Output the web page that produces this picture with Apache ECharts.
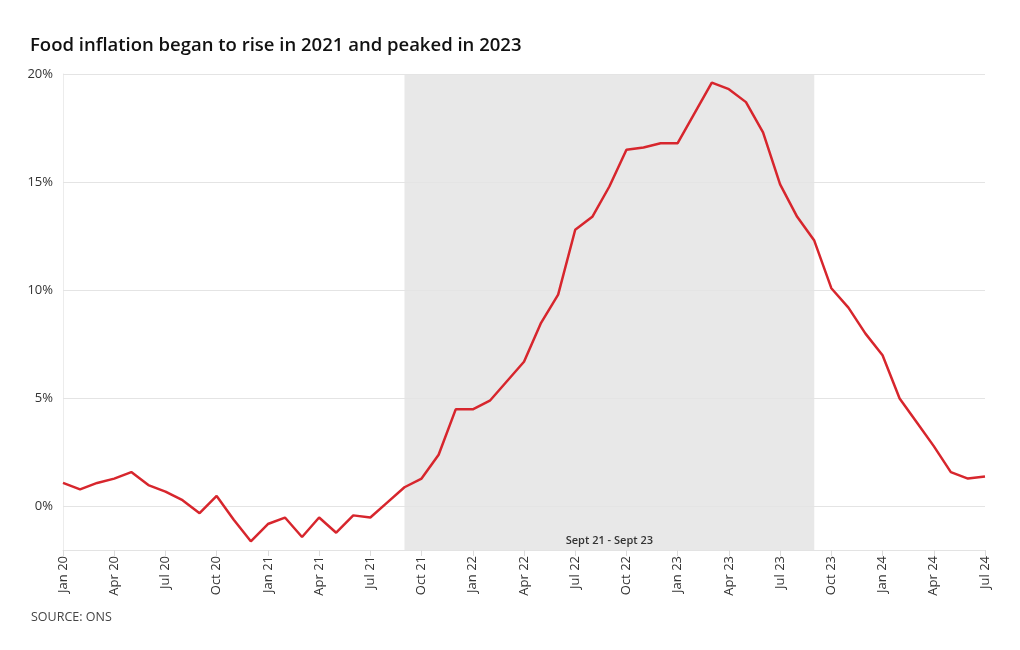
<!DOCTYPE html>
<html>
<head>
<meta charset="utf-8">
<script src="https://cdn.jsdelivr.net/npm/echarts@6/dist/echarts.min.js"></script>
<style>
html,body{margin:0;padding:0;background:#fff;}
#c{width:1020px;height:650px;}
</style>
</head>
<body>
<div id="c"></div>
<script>
const months = [
  "Jan 20","Feb 20","Mar 20","Apr 20","May 20","Jun 20","Jul 20","Aug 20","Sep 20","Oct 20","Nov 20","Dec 20",
  "Jan 21","Feb 21","Mar 21","Apr 21","May 21","Jun 21","Jul 21","Aug 21","Sep 21","Oct 21","Nov 21","Dec 21",
  "Jan 22","Feb 22","Mar 22","Apr 22","May 22","Jun 22","Jul 22","Aug 22","Sep 22","Oct 22","Nov 22","Dec 22",
  "Jan 23","Feb 23","Mar 23","Apr 23","May 23","Jun 23","Jul 23","Aug 23","Sep 23","Oct 23","Nov 23","Dec 23",
  "Jan 24","Feb 24","Mar 24","Apr 24","May 24","Jun 24","Jul 24"
];
const foodInflation = [
  1.1, 0.8, 1.1, 1.3, 1.6, 1.0, 0.7, 0.3, -0.3, 0.5, -0.6, -1.6,
  -0.8, -0.5, -1.4, -0.5, -1.2, -0.4, -0.5, 0.2, 0.9, 1.3, 2.4, 4.5,
  4.5, 4.9, 5.8, 6.7, 8.5, 9.8, 12.8, 13.4, 14.8, 16.5, 16.6, 16.8,
  16.8, 18.2, 19.6, 19.3, 18.7, 17.3, 14.9, 13.4, 12.3, 10.1, 9.2, 8.0,
  7.0, 5.0, 3.9, 2.8, 1.6, 1.3, 1.4
];
const yTicks = [0, 5, 10, 15, 20];
const shadeStart = "Sep 21";
const shadeEnd = "Sep 23";
const shadeLabel = "Sept 21 - Sept 23";
const titleText = "Food inflation began to rise in 2021 and peaked in 2023";
const sourceText = "SOURCE: ONS";

const FONT = "'Open Sans', 'Noto Sans', sans-serif";
const chart = echarts.init(document.getElementById('c'));
chart.setOption({
  animation: false,
  backgroundColor: '#fff',
  textStyle: { fontFamily: FONT },
  title: [
    { text: titleText, left: 25, top: 31,
      textStyle: { fontFamily: FONT, fontSize: 18.5, fontWeight: 600, color: '#111' } },
    { text: sourceText, left: 26, top: 606,
      textStyle: { fontFamily: FONT, fontSize: 12.5, fontWeight: 400, color: '#444' } }
  ],
  grid: { left: 63, right: 35, top: 74, bottom: 100, containLabel: false },
  xAxis: {
    type: 'category',
    data: months,
    boundaryGap: false,
    axisLine: { show: true, onZero: false, lineStyle: { color: '#e3e3e3', width: 1 } },
    axisTick: { show: true, interval: 2, length: 6, lineStyle: { color: '#dcdcdc' } },
    axisLabel: { interval: 2, rotate: 90, margin: 6, fontSize: 13, color: '#333', fontFamily: FONT },
    splitLine: { show: false }
  },
  yAxis: {
    type: 'value',
    min: -2,
    max: 20,
    interval: 1,
    axisLine: { show: true, lineStyle: { color: '#ececec', width: 1 } },
    axisTick: { show: false },
    splitLine: { show: false },
    axisLabel: {
      margin: 10, fontSize: 13, color: '#333', fontFamily: FONT,
      formatter: v => (yTicks.indexOf(v) >= 0 ? v + '%' : '')
    }
  },
  series: [{
    type: 'line',
    data: foodInflation,
    symbol: 'none',
    lineStyle: { color: '#d7262d', width: 2.5 },
    z: 5,
    markArea: {
      silent: true,
      itemStyle: { color: '#e8e8e8' },
      label: { show: true, position: 'insideBottom', distance: 4, formatter: shadeLabel,
        fontSize: 11, fontWeight: 600, color: '#333', fontFamily: FONT },
      data: [[{ xAxis: shadeStart }, { xAxis: shadeEnd }]]
    },
    markLine: {
      silent: true,
      symbol: 'none',
      label: { show: false },
      lineStyle: { color: '#e4e4e4', width: 1, type: 'solid' },
      data: yTicks.map(v => ({ yAxis: v }))
    }
  }]
});
</script>
</body>
</html>
